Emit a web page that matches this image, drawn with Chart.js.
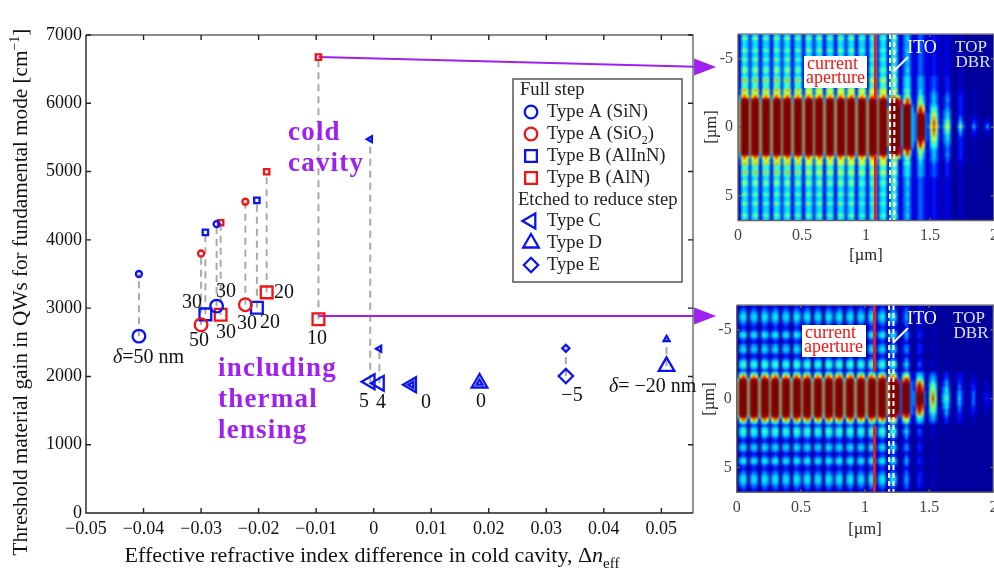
<!DOCTYPE html>
<html><head><meta charset="utf-8">
<script src="https://cdn.jsdelivr.net/npm/chart.js@4"></script>
<style>
html,body{margin:0;padding:0;background:#fff;width:994px;height:573px;overflow:hidden}
canvas{position:absolute;display:block}
</style></head><body>
<canvas id="main" width="994" height="573" style="left:0;top:0;width:994px;height:573px"></canvas>
<canvas id="heatA" width="340" height="290" style="left:690px;top:0;width:340px;height:290px"></canvas>
<canvas id="heatB" width="340" height="283" style="left:690px;top:290px;width:340px;height:283px"></canvas>
<script>
// ---------- scatter data (effective index difference, gain in cm^-1) ----------
const dnA_SiN  = [-0.0408, -0.0273];
const hotA_SiN = [2590, 3030];
const coldA_SiN= [3500, 4231];
const dnA_SiO2  = [-0.0300, -0.0223];
const hotA_SiO2 = [2757, 3050];
const coldA_SiO2= [3800, 4558];
const dnB_AlInN  = [-0.02925, -0.0203];
const hotB_AlInN = [2909, 3006];
const coldB_AlInN= [4110, 4578];
const dnB_AlN  = [-0.0266, -0.0186, -0.0096];
const hotB_AlN = [2903, 3231, 2836];
const coldB_AlN= [4250, 4997, 6676];
const dnC  = [-0.0006, 0.0010, 0.0066];
const hotC = [1922, 1899, 1879];
const coldC= [5475, 2405, 1879];
const dnD  = [0.0184, 0.0509];
const hotD = [1904, 2148];
const coldD= [1904, 2543];
const dnE  = [0.0334];
const hotE = [2006];
const coldE= [2411];
const arrowColdY = [6676, 6531];
const arrowHotY  = [2885, 2885];
const arrowX     = [-0.0096, 0.0576];

// ---------- heat map cells: one hex-like level per cell, spaces split the fringes ----------
const heatColdRows = {
a:"1454 1454 1454 1454 1454 1454 1454 1454 1454 1454 1454 1454 1454 1454 14641 13431 12321 11211 01110 00100 00000 00000",
b:"1575 1575 1575 1575 1575 1575 1575 1575 1575 1575 1575 1565 1565 1565 15751 13531 12321 11211 01110 00100 00000 00000",
c:"1565 1565 1565 1565 1565 1565 1565 1565 1565 1565 1565 1565 1565 1565 15651 14541 13431 12321 01210 00100 00000 00000",
d:"1696 1696 1696 1696 1696 1696 1686 1686 1686 1686 1686 1686 1686 1686 16861 14541 13431 12321 01210 00100 00000 00000",
e:"2797 2797 2797 2797 2797 2797 2787 2787 2787 2787 2787 2787 2787 2787 16871 15651 13531 12421 01210 01110 00100 00000",
f:"2686 2686 2686 2686 2686 2686 2686 2686 2686 2686 2686 2686 2686 2686 15751 14641 13531 13431 01310 01110 00100 00000",
g:"38a8 38a8 38a8 38a8 38a8 38a8 38a8 38a8 38a8 38a8 38a8 38a8 38a8 38a8 36a86 15751 14641 13531 02320 01210 00100 00000",
h:"4bcb 4bcb 4bcb 4bcb 4bcb 4bcb 4bcb 4bcb 4bcb 4bcb 4bcb 4bcb 4bcb 4bcb 4acca 26a62 14741 13531 02420 01210 00100 00000",
i:"dccc dccc dccc dccc dccc dccc dccc dccc dccc dccc dccc dccc dccc dccc 3cccb 28b82 15751 13531 02320 01210 00100 00000",
j:"dccc dccc dccc dccc dccc dccc dccc dccc dccc dccc dccc dccc dccc dccc 3cccb 3bcb3 16961 14541 02320 01210 00100 00000",
k:"dccc dccc dccc dccc dccc dccc dccc dccc dccc dccc dccc dccc dccc dccc dcccc 4ccc4 18b81 15651 02420 01210 00100 00000",
l:"dccc dccc dccc dccc dccc dccc dccc dccc dccc dccc dccc dccc dccc dccc dcccc 4ccc4 29c92 15751 03430 01210 00100 00000",
m:"dccc dccc dccc dccc dccc dccc dccc dccc dccc dccc dccc dccc dccc dccc dcccc 4ccc4 3bcb3 26862 03530 01210 00100 00000",
n:"dccc dccc dccc dccc dccc dccc dccc dccc dccc dccc dccc dccc dccc dccc dcccc 4ccc4 3ccc3 26962 03530 01310 01110 00100",
o:"dccc dccc dccc dccc dccc dccc dccc dccc dccc dccc dccc dccc dccc dccc dcccc 4ccc4 3ccc3 27a72 04640 01410 01210 00100",
p:"dccc dccc dccc dccc dccc dccc dccc dccc dccc dccc dccc dccc dccc dccc dcccc 4ccc4 3ccc3 27b72 04740 02520 01310 01210",
q:"dccc dccc dccc dccc dccc dccc dccc dccc dccc dccc dccc dccc dccc dccc dcccc 4ccc4 3ccc3 38a83 05850 03730 02520 01410"
};
const heatColdOrder = "abaaabaabaabbacdccefghijklmnopq" + "ponmlkjihgfeccdcabbaabaabaaaba";

const heatHotRows = {
A:"0121 0121 0121 0121 0121 0121 0121 0121 0121 0121 0121 0121 0121 0121 01210 01110 00100 00000 00000 00000 00000 00000",
B:"0232 0232 0232 0232 0232 0232 0232 0232 0232 0232 0232 0232 0232 0232 02320 01310 01110 00100 00000 00000 00000 00000",
C:"0343 0343 0343 0343 0343 0343 0343 0343 0343 0343 0343 0343 0343 0343 03430 02320 01210 00100 00000 00000 00000 00000",
D:"0454 0454 0454 0454 0454 0454 0454 0454 0454 0454 0454 0454 0454 0454 04540 02420 01210 00100 00000 00000 00000 00000",
E:"0565 0565 0565 0565 0565 0565 0565 0565 0565 0565 0565 0565 0565 0565 05650 03530 01310 01110 00100 00000 00000 00000",
F:"1343 1343 1343 1343 1343 1343 1343 1343 1343 1343 1343 1343 1343 1343 13431 12321 01210 01110 00100 00000 00000 00000",
G:"1565 1565 1565 1565 1565 1565 1565 1565 1565 1565 1565 1565 1565 1565 15751 14641 13431 02320 01210 01110 00100 00000",
H:"28a8 28a8 28a8 28a8 28a8 28a8 28a8 28a8 28a8 28a8 28a8 28a8 28a8 28a8 28a82 16861 14541 03430 01210 01110 00100 00000",
I:"5bcb 5bcb 5bcb 5bcb 5bcb 5bcb 5bcb 5bcb 5bcb 5bcb 5bcb 5bcb 5bcb 5bcb 3bcb3 29b92 15751 03530 01310 01210 00100 00000",
J:"dccc dccc dccc dccc dccc dccc dccc dccc dccc dccc dccc dccc dccc dccc dcccb 3bcb3 27a72 04640 02420 01210 01110 00100",
K:"dccc dccc dccc dccc dccc dccc dccc dccc dccc dccc dccc dccc dccc dccc dcccc 3ccc3 29c92 05750 02420 01310 01210 00100",
L:"dccc dccc dccc dccc dccc dccc dccc dccc dccc dccc dccc dccc dccc dccc dcccc 3ccc3 2aca2 05850 03530 01310 01210 00100",
M:"dccc dccc dccc dccc dccc dccc dccc dccc dccc dccc dccc dccc dccc dccc dcccc 3ccc3 3bcb3 06960 03530 02420 01310 01110",
N:"dccc dccc dccc dccc dccc dccc dccc dccc dccc dccc dccc dccc dccc dccc dcccc 3ccc3 3ccc3 06a60 04540 02420 01310 01110",
O:"dccc dccc dccc dccc dccc dccc dccc dccc dccc dccc dccc dccc dccc dccc dcccc 3ccc3 3ccc3 07b70 04640 02520 01310 01210"
};
const heatHotOrder = "ABCDDCBABDDBACDCABDEDBGHIJKLMNO" + "NMLKJIHGBDEDBACDCABDDBABCDDCBA";

const levelColors = {"0":"#00009c","1":"#0000d8","2":"#0020ff","3":"#0070ff","4":"#00b8ff","5":"#10f0f0","6":"#60ffa0","7":"#b0ff50","8":"#ffff00","9":"#ffa000","a":"#ff4000","b":"#c80000","c":"#800000","d":"#8f9a70"};
const apertureX = 1.073, itoLeftX = 1.1875, itoRightX = 1.2214;
const heatXTicks = [0, 0.5, 1, 1.5, 2];
const heatYTicks = [-5, 0, 5];

// ---------- helpers ----------
const SERIF = '"Liberation Serif", "Times New Roman", serif';
const PURPLE = '#a020f0';
const BLUE = '#0a14f0', RED = '#f01414', DASH = '#a9a9a9';
const pts = (xs, ys) => xs.map((x, i) => ({x, y: ys[i]}));

function rich(ctx, runs, x, y, size, color, rot, align) {
  ctx.save();
  ctx.translate(x, y);
  if (rot) ctx.rotate(rot);
  ctx.fillStyle = color || '#111';
  ctx.textBaseline = 'alphabetic';
  ctx.textAlign = 'left';
  const fontOf = r => `${r.i ? 'italic ' : ''}${(r.sub || r.sup) ? Math.round(size * 0.66) : size}px ${SERIF}`;
  let total = 0;
  runs.forEach(r => { ctx.font = fontOf(r); total += ctx.measureText(r.t).width; });
  let cx = align === 'center' ? -total / 2 : 0;
  runs.forEach(r => {
    ctx.font = fontOf(r);
    ctx.fillText(r.t, cx, r.sub ? size * 0.26 : r.sup ? -size * 0.38 : 0);
    cx += ctx.measureText(r.t).width;
  });
  ctx.restore();
}
function label(ctx, t, x, y, font, color) {
  ctx.font = font; ctx.fillStyle = color || '#111';
  ctx.textAlign = 'center'; ctx.textBaseline = 'middle';
  ctx.fillText(t, x, y);
}
function frame(chart, tickLen, c1, c2, w) {
  const {ctx, chartArea: a, scales: {x, y}} = chart;
  ctx.save();
  ctx.lineWidth = w;
  ctx.strokeStyle = c2;
  ctx.beginPath();
  ctx.moveTo(a.left, a.top); ctx.lineTo(a.right, a.top); ctx.lineTo(a.right, a.bottom);
  ctx.stroke();
  ctx.strokeStyle = c1;
  ctx.beginPath();
  ctx.moveTo(a.left, a.top); ctx.lineTo(a.left, a.bottom); ctx.lineTo(a.right, a.bottom);
  x.ticks.forEach(t => {
    const p = x.getPixelForValue(t.value);
    ctx.moveTo(p, a.bottom); ctx.lineTo(p, a.bottom - tickLen);
    ctx.moveTo(p, a.top); ctx.lineTo(p, a.top + tickLen);
  });
  y.ticks.forEach(t => {
    const p = y.getPixelForValue(t.value);
    ctx.moveTo(a.left, p); ctx.lineTo(a.left + tickLen, p);
    ctx.moveTo(a.right, p); ctx.lineTo(a.right - tickLen, p);
  });
  ctx.stroke();
  ctx.restore();
}

// ---------- main scatter ----------
const marker = (name, xs, ys, color, style, r, rot) => ({
  label: name, data: pts(xs, ys), showLine: false, pointStyle: style, pointRadius: r, pointRotation: rot || 0,
  pointBorderColor: color, pointBackgroundColor: 'rgba(0,0,0,0)', pointBorderWidth: 2.3
});
const connector = (x, a, b) => ({
  data: [{x, y: a}, {x, y: b}], showLine: true, borderColor: DASH, borderWidth: 2, borderDash: [7, 5], pointRadius: 0, fill: false
});
const families = [
  [dnA_SiN, hotA_SiN, coldA_SiN, BLUE, 'circle', 6.3, 3, 0, 'Type A (SiN)'],
  [dnA_SiO2, hotA_SiO2, coldA_SiO2, RED, 'circle', 6.3, 3, 0, 'Type A (SiO2)'],
  [dnB_AlInN, hotB_AlInN, coldB_AlInN, BLUE, 'rect', 8.3, 3.8, 0, 'Type B (AlInN)'],
  [dnB_AlN, hotB_AlN, coldB_AlN, RED, 'rect', 8.3, 3.8, 0, 'Type B (AlN)'],
  [dnC, hotC, coldC, BLUE, 'triangle', 8.6, 3.4, -90, 'Type C'],
  [dnD, hotD, coldD, BLUE, 'triangle', 9, 3.4, 0, 'Type D'],
  [dnE, hotE, coldE, BLUE, 'rectRot', 7.2, 3.6, 0, 'Type E']
];
const mainSets = [];
families.forEach(f => {
  mainSets.push(marker(f[8] + ' with thermal lensing', f[0], f[1], f[3], f[4], f[5], f[7]));
  mainSets.push(marker(f[8] + ' cold cavity', f[0], f[2], f[3], f[4], f[6], f[7]));
});
mainSets.push({label:'arrow cold', data: pts(arrowX, arrowColdY), showLine: true, clip: false, borderColor: PURPLE, borderWidth: 2, pointRadius: 0});
mainSets.push({label:'arrow hot', data: pts(arrowX, arrowHotY), showLine: true, clip: false, borderColor: PURPLE, borderWidth: 2, pointRadius: 0});
families.forEach(f => f[0].forEach((x, i) => {
  if (f[1][i] !== f[2][i]) mainSets.push(connector(x, f[1][i], f[2][i]));
}));

const pointLabels = [
  ['30',192,303],['30',226,292],['50',199,341],['30',226,333],['30',247,324],['20',284,293],['20',270,323],['10',317,339],
  ['5',364,402],['4',381,403],['0',426,403],['0',481,402],['\u22125',572,396]
];
const mainDecor = {
  id: 'mainDecor',
  afterDatasetsDraw(chart) {
    const {ctx, scales: {x, y}} = chart;
    frame(chart, 5, '#222', '#666', 1.4);
    // arrow heads
    [[arrowColdY], [arrowHotY]].forEach(([ys]) => {
      const px = x.getPixelForValue(arrowX[1]), py = y.getPixelForValue(ys[1]);
      ctx.fillStyle = PURPLE;
      ctx.beginPath();
      ctx.moveTo(px + 11, py); ctx.lineTo(px - 11, py - 8.5); ctx.lineTo(px - 11, py + 8.5);
      ctx.closePath(); ctx.fill();
    });
    // legend
    ctx.save();
    ctx.fillStyle = '#fff'; ctx.strokeStyle = '#555'; ctx.lineWidth = 1.5;
    ctx.fillRect(513, 79, 169, 203); ctx.strokeRect(513, 79, 169, 203);
    ctx.restore();
    const lg = [
      ['Full step', null, 90],
      [[{t:'Type A (SiN)'}], 0, 112],
      [[{t:'Type A (SiO'},{t:'2',sub:1},{t:')'}], 1, 134],
      [[{t:'Type B (AlInN)'}], 2, 156],
      [[{t:'Type B (AlN)'}], 3, 178],
      ['Etched to reduce step', null, 200],
      [[{t:'Type C'}], 4, 221],
      [[{t:'Type D'}], 5, 243],
      [[{t:'Type E'}], 6, 265]
    ];
    lg.forEach(([t, fi, py], n) => {
      if (fi === null) {
        rich(ctx, [{t}], n === 0 ? 520 : 518, py + 5, 18.6, '#222');
      } else {
        const f = families[fi];
        ctx.save();
        ctx.strokeStyle = f[3]; ctx.lineWidth = 2.3; ctx.fillStyle = 'rgba(0,0,0,0)';
        Chart.helpers.drawPoint(ctx, {pointStyle: f[4], radius: f[5], rotation: f[7], borderWidth: 2.3}, 531, py);
        ctx.restore();
        rich(ctx, t, 547, py + 5, 18.6, '#222');
      }
    });
    // point labels
    pointLabels.forEach(([t, px, py]) => label(ctx, t, px, py, `20px ${SERIF}`));
    rich(ctx, [{t:'\u03b4', i:1},{t:'=50 nm'}], 113, 363, 20);
    rich(ctx, [{t:'\u03b4', i:1},{t:'= \u221220 nm'}], 609, 392, 20);
    // purple labels
    ctx.save();
    ctx.letterSpacing = '1.2px';
    ctx.font = `bold 27px ${SERIF}`; ctx.fillStyle = PURPLE;
    ctx.textAlign = 'left'; ctx.textBaseline = 'alphabetic';
    [['cold',288,140],['cavity',288,171],['including',218,376],['thermal',218,407],['lensing',218,438]]
      .forEach(([t, px, py]) => ctx.fillText(t, px, py));
    ctx.restore();
    // axis titles
    rich(ctx, [{t:'Threshold material gain in QWs for fundamental mode [cm'},{t:'\u22121',sup:1},{t:']'}], 27, 292, 21.2, '#111', -Math.PI/2, 'center');
    rich(ctx, [{t:'Effective refractive index difference in cold cavity, \u0394'},{t:'n',i:1},{t:'eff',sub:1}], 372, 562, 22, '#111', 0, 'center');
  }
};

new Chart(document.getElementById('main'), {
  type: 'scatter',
  data: {datasets: mainSets},
  options: {
    responsive: false, animation: false, devicePixelRatio: 1, events: [],
    layout: {padding: {top: 35, right: 301, left: 0, bottom: 0}},
    plugins: {legend: {display: false}, tooltip: {enabled: false}},
    scales: {
      x: {
        type: 'linear', min: -0.05, max: 0.0555,
        grid: {display: false, drawTicks: false}, border: {display: false},
        afterFit: s => { s.height = 60; },
        ticks: {
          stepSize: 0.01, includeBounds: false, autoSkip: false, maxRotation: 0, padding: 5,
          color: '#111', font: {family: SERIF, size: 18},
          callback: v => Math.abs(v) < 1e-9 ? '0' : (v < 0 ? '\u2212' : '') + Math.abs(v).toFixed(2)
        }
      },
      y: {
        type: 'linear', min: 0, max: 7000,
        grid: {display: false, drawTicks: false}, border: {display: false},
        afterFit: s => { s.width = 86; },
        ticks: {stepSize: 1000, padding: 4, color: '#111', font: {family: SERIF, size: 18}, callback: v => String(v)}
      }
    }
  },
  plugins: [mainDecor]
});

// ---------- heat maps ----------
const levelCanvas = {};
Object.keys(levelColors).forEach(k => {
  const c = document.createElement('canvas');
  c.width = 3; c.height = 4;
  const g = c.getContext('2d');
  g.fillStyle = levelColors[k]; g.fillRect(0, 0, 3, 4);
  levelCanvas[k] = c;
});
function heatChart(id, rows, order, cfg) {
  const data = [], styles = [];
  const nRows = order.length, yHalf = 6.8, rowStep = 2 * yHalf / nRows;
  [...order].forEach((key, r) => {
    const cells = rows[key].replace(/ /g, '');
    const cellStep = 2 / 96;
    [...cells].forEach((ch, c) => {
      data.push({x: (c + 0.5) * cellStep, y: -yHalf + (r + 0.5) * rowStep});
      styles.push(levelCanvas[ch]);
    });
  });
  const vline = (x, color, w, dash, gap) => ({
    data: gap ? [{x, y: -6.8}, {x, y: -gap}, {x, y: null}, {x, y: gap}, {x, y: 6.8}] : [{x, y: -6.8}, {x, y: 6.8}],
    showLine: true, borderColor: color, borderWidth: w, borderDash: dash || [], pointRadius: 0, spanGaps: false
  });
  const decor = {
    id: 'heatDecor',
    afterDatasetDraw(chart, args) {
      // soften the cell layer in place, as the interpolated original image is
      if (args.index !== 3) return;
      const {ctx, chartArea: a} = chart;
      ctx.save();
      ctx.beginPath(); ctx.rect(a.left, a.top, a.width, a.height); ctx.clip();
      ctx.filter = 'blur(1.1px)';
      ctx.drawImage(chart.canvas, a.left, a.top, a.width, a.height, a.left, a.top, a.width, a.height);
      ctx.restore();
    },
    afterDatasetsDraw(chart) {
      const {ctx} = chart;
      frame(chart, 3, '#666', '#888', 1.4);
      const o = cfg.off;
      // white leader
      ctx.save();
      ctx.strokeStyle = '#fff'; ctx.lineWidth = 2;
      ctx.beginPath(); ctx.moveTo(cfg.lead[0] - o[0], cfg.lead[1] - o[1]); ctx.lineTo(cfg.lead[2] - o[0], cfg.lead[3] - o[1]); ctx.stroke();
      // current aperture box
      ctx.fillStyle = '#fff';
      ctx.fillRect(cfg.box[0] - o[0], cfg.box[1] - o[1], cfg.box[2], cfg.box[3]);
      ctx.restore();
      rich(ctx, [{t:'current'}], cfg.box[0] + 3 - o[0], cfg.box[1] + 13 - o[1], 18, '#f01414');
      rich(ctx, [{t:'aperture'}], cfg.box[0] + 2 - o[0], cfg.box[1] + 27 - o[1], 18, '#f01414');
      label(ctx, 'ITO', cfg.ito[0] - o[0], cfg.ito[1] - o[1], `18px ${SERIF}`, '#fff');
      label(ctx, 'TOP', cfg.top[0] - o[0], cfg.top[1] - o[1], `17px ${SERIF}`, '#dfe4fa');
      label(ctx, 'DBR', cfg.dbr[0] - o[0], cfg.dbr[1] - o[1], `17px ${SERIF}`, '#dfe4fa');
      // axis titles
      rich(ctx, [{t:'[\u00b5m]'}], cfg.xt[0] - o[0], cfg.xt[1] - o[1], 16.5, '#222', 0, 'center');
      rich(ctx, [{t:'[\u00b5m]'}], cfg.yt[0] - o[0], cfg.yt[1] - o[1], 16.5, '#222', -Math.PI/2, 'center');
    }
  };
  new Chart(document.getElementById(id), {
    type: 'scatter',
    data: {datasets: [
      vline(apertureX, '#f01c1c', 2.8, null, cfg.gap),
      vline(itoLeftX, '#fff', 2, [5, 3]),
      vline(itoRightX, '#fff', 2, [5, 3]),
      {label: id, data, showLine: false, pointStyle: styles, pointRadius: 1, pointBorderWidth: 0, normalized: true}
    ]},
    options: {
      responsive: false, animation: false, devicePixelRatio: 1, events: [],
      layout: {padding: {top: cfg.top0, right: cfg.rightPad, left: 0, bottom: 0}},
      plugins: {legend: {display: false}, tooltip: {enabled: false}},
      scales: {
        x: {
          type: 'linear', min: 0, max: 2, grid: {display: false, drawTicks: false}, border: {display: false},
          afterFit: s => { s.height = cfg.xh; },
          afterBuildTicks: s => { s.ticks = heatXTicks.map(value => ({value})); },
          ticks: {autoSkip: false, maxRotation: 0, padding: 6, color: '#444', font: {family: SERIF, size: 16}, callback: v => String(v)}
        },
        y: {
          type: 'linear', min: -6.8, max: 6.8, reverse: true, grid: {display: false, drawTicks: false}, border: {display: false},
          afterFit: s => { s.width = cfg.yw; },
          afterBuildTicks: s => { s.ticks = heatYTicks.map(value => ({value})); },
          ticks: {autoSkip: false, padding: 5, color: '#444', font: {family: SERIF, size: 16}, callback: v => v < 0 ? '-' + (-v) : String(v)}
        }
      }
    },
    plugins: [decor]
  });
}
heatChart('heatA', heatColdRows, heatColdOrder, {
  off: [690, 0], top0: 34, xh: 69.5, yw: 48, rightPad: 36, gap: 2.1,
  lead: [908, 57, 893, 72], box: [804, 56, 63, 32], ito: [922, 48], top: [971, 48], dbr: [973, 63],
  xt: [866, 260], yt: [716, 127]
});
heatChart('heatB', heatHotRows, heatHotOrder, {
  off: [690, 290], top0: 15, xh: 80.7, yw: 46.7, rightPad: 36.6, gap: 1.95,
  lead: [908, 328, 893, 343], box: [802, 325, 64, 32], ito: [922, 319], top: [969, 319], dbr: [971, 334],
  xt: [865, 534], yt: [714, 399]
});
</script>
</body></html>
